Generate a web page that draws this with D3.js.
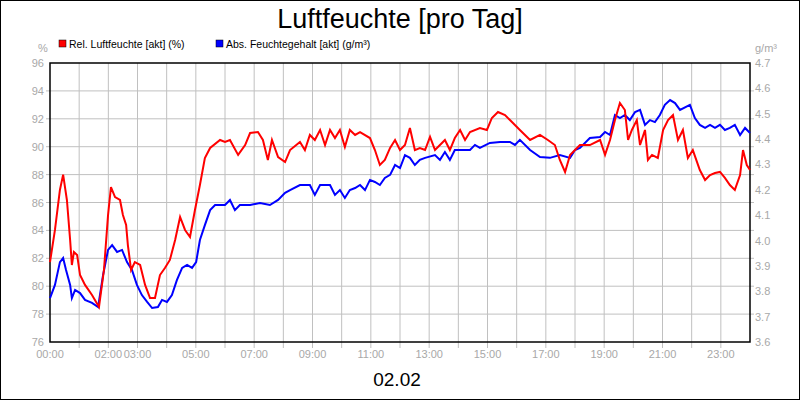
<!DOCTYPE html><html><head><meta charset="utf-8"><script src="https://cdn.jsdelivr.net/npm/d3@7"></script>
<style>body{margin:0}svg{font-family:"Liberation Sans",Arial,sans-serif}</style></head><body><svg id="c" width="800" height="400"></svg><script>
const relT=[0,.17,.34,.45,.58,.69,.75,.82,.93,1.03,1.2,1.44,1.68,1.85,1.99,2.09,2.23,2.4,2.5,2.61,2.67,2.78,2.91,3.09,3.26,3.43,3.6,3.77,3.94,4.11,4.29,4.46,4.63,4.8,4.97,5.14,5.31,5.49,5.83,6,6.17,6.45,6.69,6.86,7.13,7.3,7.47,7.61,7.82,8.06,8.23,8.57,8.74,8.91,9.08,9.26,9.43,9.6,9.77,9.94,10.11,10.28,10.46,10.63,10.97,11.14,11.31,11.48,11.66,11.83,12,12.17,12.34,12.51,12.68,12.86,13.03,13.2,13.37,13.54,13.71,13.88,14.06,14.23,14.4,14.74,14.98,15.15,15.36,15.6,15.77,16.11,16.46,16.8,17.07,17.31,17.48,17.66,17.83,18,18.17,18.51,18.86,19.03,19.2,19.37,19.54,19.71,19.82,19.95,20.12,20.23,20.4,20.5,20.64,20.84,21.02,21.19,21.36,21.53,21.7,21.87,22.04,22.28,22.46,22.63,22.8,22.97,23.14,23.31,23.48,23.66,23.76,23.89,24];
const relV=[81.73,84.03,86.9,88.0,86.18,83.31,81.52,82.45,82.24,80.8,80.09,79.37,78.51,81.16,85.1,87.11,86.39,86.18,85.1,84.39,82.95,81.16,81.73,81.52,80.09,79.15,79.15,80.8,81.3,81.88,83.31,84.96,84.03,83.53,85.46,87.25,89.19,89.91,90.48,90.34,90.48,89.41,90.12,90.98,91.05,90.48,89.05,90.48,89.26,88.9,89.76,90.34,89.76,90.84,90.48,91.2,90.12,91.2,90.62,91.2,89.98,91.2,90.84,91.05,90.62,89.76,88.69,89.05,89.91,90.48,89.76,90.12,91.34,89.76,89.91,89.76,90.7,89.76,90.12,90.48,89.76,90.62,91.2,90.48,91.05,91.34,91.2,92.06,92.49,92.27,91.91,91.2,90.48,90.84,90.48,90.12,89.05,88.19,89.41,89.76,90.12,90.12,90.48,89.41,90.48,91.91,93.13,92.63,90.48,91.2,91.91,90.12,91.2,89.05,89.41,89.19,91.2,91.91,92.27,90.48,91.2,89.19,89.76,88.33,87.61,87.97,88.11,88.19,87.76,87.25,86.9,87.97,89.76,88.69,88.33];
const absT=[0,.17,.34,.45,.55,.69,.75,.86,1.03,1.2,1.44,1.65,1.82,1.99,2.13,2.3,2.47,2.64,2.81,2.98,3.15,3.33,3.5,3.7,3.84,4.01,4.18,4.35,4.53,4.7,4.87,5.01,5.14,5.31,5.49,5.66,6,6.17,6.34,6.51,6.86,7.2,7.54,7.82,8.06,8.23,8.57,8.91,9.08,9.26,9.6,9.77,9.94,10.11,10.28,10.46,10.63,10.8,10.97,11.14,11.31,11.48,11.66,11.83,12,12.17,12.34,12.51,12.68,12.86,13.2,13.37,13.54,13.71,13.88,14.23,14.4,14.57,14.74,15.08,15.43,15.77,15.94,16.11,16.46,16.8,17.14,17.48,17.83,18,18.17,18.51,18.86,19.03,19.2,19.37,19.54,19.71,19.88,20.06,20.23,20.4,20.57,20.74,20.91,21.08,21.26,21.43,21.6,21.94,22.11,22.28,22.46,22.63,22.8,22.97,23.14,23.31,23.48,23.66,23.83,24];
const absV=[3.773,3.825,3.915,3.931,3.884,3.825,3.773,3.805,3.793,3.766,3.754,3.738,3.864,3.963,3.982,3.955,3.963,3.915,3.884,3.825,3.785,3.758,3.734,3.738,3.766,3.758,3.785,3.844,3.892,3.904,3.892,3.915,4.002,4.061,4.12,4.14,4.14,4.16,4.12,4.14,4.14,4.148,4.14,4.16,4.188,4.199,4.219,4.219,4.18,4.219,4.219,4.18,4.199,4.168,4.199,4.207,4.219,4.199,4.239,4.231,4.219,4.247,4.259,4.298,4.286,4.337,4.326,4.298,4.318,4.326,4.337,4.318,4.349,4.318,4.357,4.357,4.357,4.377,4.365,4.385,4.389,4.389,4.377,4.397,4.357,4.329,4.326,4.337,4.326,4.357,4.365,4.404,4.408,4.428,4.416,4.495,4.483,4.495,4.475,4.507,4.515,4.456,4.475,4.467,4.495,4.535,4.554,4.542,4.515,4.535,4.483,4.456,4.444,4.456,4.444,4.456,4.436,4.444,4.456,4.416,4.444,4.424];
const xLabelHours=[0,2,3,5,7,9,11,13,15,17,19,21,23];
const leftTicks=[76,78,80,82,84,86,88,90,92,94,96];
const rightTicks=[3.6,3.7,3.8,3.9,4.0,4.1,4.2,4.3,4.4,4.5,4.6,4.7];
const seriesNames=["Rel. Luftfeuchte [akt] (%)","Abs. Feuchtegehalt [akt] (g/m³)"];

const svg=d3.select("#c");
const L=50,R=750,T=63,B=342;
const x=d3.scaleLinear().domain([0,24]).range([L,R]);
const yl=d3.scaleLinear().domain([76,96]).range([B,T]);
const yr=d3.scaleLinear().domain([3.6,4.7]).range([B,T]);
svg.append("rect").attr("x",0.5).attr("y",0.5).attr("width",799).attr("height",399).attr("fill","#fff").attr("stroke","#000");
const g=svg.append("g");
g.selectAll(".vg").data(d3.range(1,24)).join("line").attr("x1",d=>x(d)).attr("x2",d=>x(d)).attr("y1",T).attr("y2",B+6).attr("stroke","#c0c0c0");
g.selectAll(".hg").data(leftTicks.slice(1,-1)).join("line").attr("x1",L-4).attr("x2",R+4).attr("y1",d=>yl(d)).attr("y2",d=>yl(d)).attr("stroke","#c0c0c0");
svg.append("rect").attr("x",L).attr("y",T).attr("width",R-L).attr("height",B-T).attr("fill","none").attr("stroke","#000").attr("stroke-width",1.5);
const gr="#a8a8a8";
svg.selectAll(".lt").data(leftTicks).join("text").attr("x",L-6).attr("y",d=>yl(d)+4).attr("text-anchor","end").attr("font-size",11).attr("fill",gr).text(d=>d);
svg.selectAll(".rt").data(rightTicks).join("text").attr("x",R+5).attr("y",d=>yr(d)+4).attr("font-size",11).attr("fill",gr).text(d=>d.toFixed(1));
svg.selectAll(".xt").data(xLabelHours).join("text").attr("x",d=>x(d)).attr("y",358).attr("text-anchor","middle").attr("font-size",11).attr("fill",gr).text(d=>String(d).padStart(2,"0")+":00");
svg.append("text").attr("x",43).attr("y",52).attr("text-anchor","middle").attr("font-size",11).attr("fill",gr).text("%");
svg.append("text").attr("x",766).attr("y",52).attr("text-anchor","middle").attr("font-size",11).attr("fill",gr).text("g/m³");
svg.append("text").attr("x",400).attr("y",28).attr("text-anchor","middle").attr("font-size",27).text("Luftfeuchte [pro Tag]");
svg.append("text").attr("x",397).attr("y",386).attr("text-anchor","middle").attr("font-size",19).text("02.02");
const cols=["#ff0000","#0000ff"],lx=[59,216];
seriesNames.forEach((n,i)=>{svg.append("rect").attr("x",lx[i]).attr("y",40).attr("width",7).attr("height",7).attr("fill",cols[i]).attr("stroke","#000").attr("stroke-width",0.5);
svg.append("text").attr("x",lx[i]+10).attr("y",47.5).attr("font-size",10.5).text(n);});
const lr=d3.line().x((d,i)=>x(relT[i])).y(d=>yl(d));
const la=d3.line().x((d,i)=>x(absT[i])).y(d=>yr(d));
svg.append("path").attr("d",la(absV)).attr("fill","none").attr("stroke","#0000ff").attr("stroke-width",2);
svg.append("path").attr("d",lr(relV)).attr("fill","none").attr("stroke","#ff0000").attr("stroke-width",2);
</script></body></html>
